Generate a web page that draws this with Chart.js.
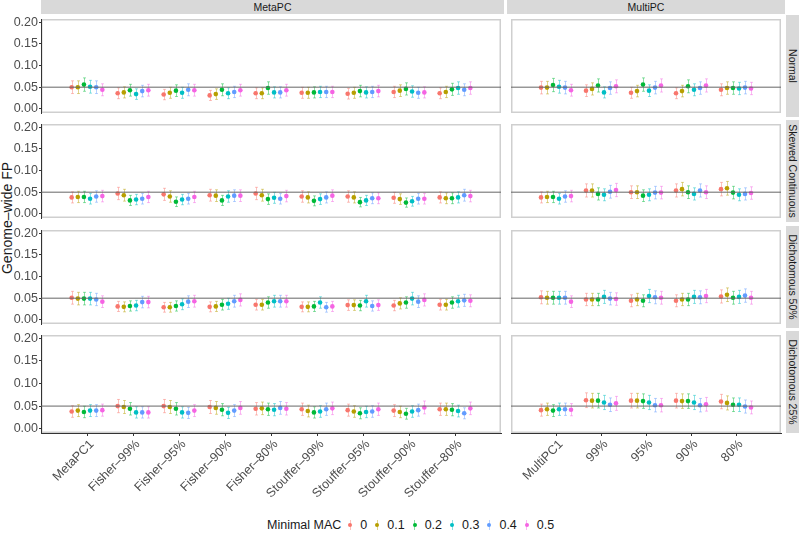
<!DOCTYPE html>
<html>
<head>
<meta charset="utf-8">
<script src="https://cdn.jsdelivr.net/npm/chart.js@4.4.1/dist/chart.umd.min.js"></script>
<style>
  body { margin: 0; background: #fff; font-family: "Liberation Sans", Arial, sans-serif; }
  #wrap { position: relative; width: 800px; height: 533px; overflow: hidden; background: #fff; }
  .cell { position: absolute; }
  .strip { position: absolute; background: #D9D9D9; color: #1A1A1A; font-size: 10.5px;
           display: flex; align-items: center; justify-content: center; }
  .strip.v span { transform: rotate(90deg); white-space: nowrap; }
  #ytitle { position: absolute; width: 200px; text-align: center; font-size: 14px; color: #1A1A1A;
            transform: rotate(-90deg); }
  #legend { position: absolute; left: 267px; top: 517px; display: flex; align-items: center;
            font-size: 12.5px; color: #1A1A1A; height: 16px; }
  .key { position: relative; width: 14px; height: 14px; margin-left: 1px; }
  .key i { position: absolute; left: 6.5px; top: 2px; width: 1px; height: 10px; opacity: 0.45; }
  .key b { position: absolute; left: 5px; top: 5px; width: 4px; height: 4px; border-radius: 50%; }
  .lab { margin-left: 3px; margin-right: 2px; }
</style>
</head>
<body>
<div id="wrap">
  <div id="ytitle" style="left:-93px; top:210px;">Genome–wide FP</div>
  <div id="legend"></div>
</div>
<script>
// GLOBALS
Chart.defaults.font.family = "'Liberation Sans', Arial, sans-serif";
Chart.defaults.font.size = 12.5;

const macLevels = ["0", "0.1", "0.2", "0.3", "0.4", "0.5"];
const macColors = ["#F8766D", "#B79F00", "#00BA38", "#00BFC4", "#619CFF", "#F564E3"];
const metaMethods = ["MetaPC1", "Fisher–99%", "Fisher–95%", "Fisher–90%", "Fisher–80%",
  "Stouffer–99%", "Stouffer–95%", "Stouffer–90%", "Stouffer–80%"];
const multiMethods = ["MultiPC1", "99%", "95%", "90%", "80%"];
const phenotypes = ["Normal", "Skewed Continuous", "Dichotomous 50%", "Dichotomous 25%"];
const yTicks = [0, 0.05, 0.1, 0.15, 0.2];
const nominalFP = 0.05;
const nReps = 850; // replicates behind each estimate (for the 95% binomial CI)

// one row per method, one column per minimal MAC level
const metaNormal = [
  [0.050, 0.050, 0.056, 0.051, 0.050, 0.044],
  [0.036, 0.038, 0.043, 0.034, 0.041, 0.043],
  [0.033, 0.037, 0.042, 0.037, 0.044, 0.043],
  [0.031, 0.034, 0.044, 0.036, 0.039, 0.043],
  [0.036, 0.036, 0.048, 0.038, 0.038, 0.043],
  [0.037, 0.037, 0.038, 0.039, 0.039, 0.039],
  [0.035, 0.037, 0.041, 0.038, 0.039, 0.041],
  [0.039, 0.042, 0.046, 0.040, 0.037, 0.038],
  [0.036, 0.039, 0.045, 0.048, 0.044, 0.048],
];
const multiNormal = [
  [0.049, 0.049, 0.055, 0.051, 0.049, 0.043],
  [0.042, 0.046, 0.054, 0.038, 0.048, 0.052],
  [0.037, 0.041, 0.056, 0.042, 0.049, 0.054],
  [0.036, 0.041, 0.052, 0.044, 0.048, 0.054],
  [0.044, 0.048, 0.048, 0.047, 0.049, 0.047],
];
const metaSkewed = [
  [0.038, 0.039, 0.039, 0.035, 0.040, 0.041],
  [0.047, 0.043, 0.031, 0.033, 0.035, 0.039],
  [0.045, 0.040, 0.028, 0.033, 0.035, 0.039],
  [0.043, 0.042, 0.031, 0.040, 0.042, 0.042],
  [0.047, 0.043, 0.034, 0.037, 0.035, 0.041],
  [0.040, 0.038, 0.030, 0.034, 0.038, 0.042],
  [0.040, 0.038, 0.027, 0.031, 0.036, 0.036],
  [0.037, 0.034, 0.026, 0.029, 0.035, 0.035],
  [0.038, 0.036, 0.036, 0.038, 0.043, 0.041],
];
const multiSkewed = [
  [0.038, 0.039, 0.039, 0.035, 0.040, 0.041],
  [0.054, 0.054, 0.046, 0.044, 0.051, 0.055],
  [0.050, 0.050, 0.042, 0.044, 0.049, 0.049],
  [0.054, 0.057, 0.050, 0.046, 0.054, 0.050],
  [0.057, 0.059, 0.049, 0.044, 0.046, 0.048],
];
const metaDich50 = [
  [0.051, 0.049, 0.049, 0.049, 0.047, 0.042],
  [0.031, 0.030, 0.032, 0.033, 0.041, 0.041],
  [0.029, 0.029, 0.032, 0.036, 0.042, 0.043],
  [0.030, 0.031, 0.035, 0.037, 0.043, 0.046],
  [0.035, 0.035, 0.040, 0.043, 0.043, 0.043],
  [0.030, 0.030, 0.031, 0.040, 0.029, 0.031],
  [0.034, 0.034, 0.033, 0.043, 0.032, 0.034],
  [0.033, 0.038, 0.040, 0.049, 0.042, 0.046],
  [0.035, 0.035, 0.040, 0.043, 0.045, 0.044],
];
const multiDich50 = [
  [0.052, 0.051, 0.051, 0.051, 0.051, 0.042],
  [0.047, 0.047, 0.047, 0.053, 0.049, 0.048],
  [0.044, 0.047, 0.044, 0.055, 0.052, 0.051],
  [0.044, 0.047, 0.047, 0.053, 0.052, 0.055],
  [0.054, 0.058, 0.051, 0.053, 0.056, 0.051],
];
const metaDich25 = [
  [0.038, 0.040, 0.037, 0.040, 0.040, 0.041],
  [0.050, 0.048, 0.044, 0.036, 0.036, 0.036],
  [0.050, 0.048, 0.044, 0.036, 0.035, 0.040],
  [0.048, 0.046, 0.042, 0.035, 0.040, 0.046],
  [0.044, 0.045, 0.043, 0.042, 0.046, 0.044],
  [0.043, 0.039, 0.036, 0.038, 0.043, 0.045],
  [0.041, 0.038, 0.034, 0.037, 0.038, 0.043],
  [0.040, 0.037, 0.033, 0.038, 0.041, 0.047],
  [0.043, 0.043, 0.042, 0.039, 0.034, 0.045],
];
const multiDich25 = [
  [0.041, 0.043, 0.040, 0.043, 0.043, 0.042],
  [0.063, 0.062, 0.062, 0.058, 0.053, 0.056],
  [0.062, 0.062, 0.061, 0.058, 0.052, 0.052],
  [0.062, 0.061, 0.061, 0.058, 0.052, 0.054],
  [0.060, 0.057, 0.053, 0.053, 0.049, 0.047],
];

const metaRows = [metaNormal, metaSkewed, metaDich50, metaDich25];
const multiRows = [multiNormal, multiSkewed, multiDich50, multiDich25];

// layout
const rowTops = [15, 120, 226, 331];
const panelH = 102;
const xLabelH = 75;
const dodge = 0.8;

function withAlpha(hex, a) {
  const n = parseInt(hex.slice(1), 16);
  return `rgba(${(n >> 16) & 255},${(n >> 8) & 255},${n & 255},${a})`;
}

// error bars under the points + light panel border
const panelPlugin = {
  id: "panel",
  beforeDraw(chart) {
    const { ctx, chartArea: a } = chart;
    ctx.save();
    ctx.strokeStyle = "#CFCFCF";
    ctx.lineWidth = 1.5;
    ctx.strokeRect(a.left + 0.75, a.top + 0.75, a.width - 1.5, a.height - 1.5);
    ctx.restore();
  },
  beforeDatasetsDraw(chart) {
    const { ctx, scales: { x, y } } = chart;
    ctx.save();
    ctx.lineWidth = 1;
    chart.data.datasets.forEach((ds) => {
      if (!ds.errorBars) return;
      ctx.strokeStyle = withAlpha(ds.backgroundColor, 0.45);
      ds.data.forEach((p) => {
        const px = Math.round(x.getPixelForValue(p.x)) + 0.5;
        const y1 = y.getPixelForValue(p.lo);
        const y2 = y.getPixelForValue(p.hi);
        ctx.beginPath();
        ctx.moveTo(px, y1); ctx.lineTo(px, y2);
        ctx.moveTo(px - 1.5, y1); ctx.lineTo(px + 1.5, y1);
        ctx.moveTo(px - 1.5, y2); ctx.lineTo(px + 1.5, y2);
        ctx.stroke();
      });
    });
    ctx.restore();
  },
};

function binomCI(p) {
  const h = 1.96 * Math.sqrt((p * (1 - p)) / nReps);
  return [p - h, p + h];
}

function makePanel(methods, values, isLeft, isBottom, left, width, top) {
  const div = document.createElement("div");
  div.className = "cell";
  div.style.left = left + "px";
  div.style.top = top + "px";
  const canvas = document.createElement("canvas");
  const height = panelH + (isBottom ? xLabelH : 0);
  canvas.width = width;
  canvas.height = height;
  canvas.style.width = width + "px";
  canvas.style.height = height + "px";
  div.appendChild(canvas);
  document.getElementById("wrap").appendChild(div);

  const datasets = macLevels.map((lvl, k) => ({
    label: lvl,
    errorBars: true,
    data: values.map((row, i) => {
      const [lo, hi] = binomCI(row[k]);
      return { x: i + ((k - 2.5) * dodge) / macLevels.length, y: row[k], lo: lo, hi: hi };
    }),
    backgroundColor: macColors[k],
    pointRadius: 2.3,
    pointBorderWidth: 0,
    order: 1,
  }));
  datasets.push({
    label: "nominal",
    data: [{ x: -1, y: nominalFP }, { x: methods.length, y: nominalFP }],
    showLine: true,
    borderColor: "#666666",
    borderWidth: 1,
    pointRadius: 0,
    order: 0,
  });

  new Chart(canvas.getContext("2d"), {
    type: "scatter",
    data: { datasets: datasets },
    options: {
      responsive: false,
      animation: false,
      layout: { padding: { left: 0, right: isLeft ? 1 : 0, top: 0, bottom: 0 } },
      plugins: { legend: { display: false }, tooltip: { enabled: false } },
      scales: {
        x: {
          type: "linear",
          min: -1,
          max: methods.length,
          display: isBottom,
          afterBuildTicks: (s) => { s.ticks = methods.map((m, i) => ({ value: i })); },
          afterFit: (s) => {
            if (!isBottom) return;
            s.height = xLabelH; s.paddingLeft = 0; s.paddingRight = 0;
          },
          ticks: {
            autoSkip: false, minRotation: 45, maxRotation: 45, padding: 1, labelOffset: 5,
            color: "#4D4D4D", font: { size: 12.5 },
            callback: (v) => methods[v],
          },
          grid: { display: true, drawOnChartArea: false, drawTicks: true, tickLength: 3, tickColor: "#333333" },
          border: { display: true, color: "#333333", width: 1 },
        },
        y: {
          type: "linear",
          min: -0.0096,
          max: 0.2074,
          display: isLeft,
          afterBuildTicks: (s) => { s.ticks = yTicks.map((v) => ({ value: v })); },
          afterFit: (s) => {
            if (!isLeft) return;
            s.width = 41; s.paddingTop = 0; s.paddingBottom = 0;
          },
          ticks: { padding: 1, color: "#4D4D4D", font: { size: 12.5 }, callback: (v) => v.toFixed(2) },
          grid: { display: true, drawOnChartArea: false, drawTicks: true, tickLength: 2, tickColor: "#333333" },
          border: { display: true, color: "#333333", width: 1 },
        },
      },
    },
    plugins: [panelPlugin],
  });
}

function addStrip(text, left, top, width, height, vertical) {
  const s = document.createElement("div");
  s.className = "strip" + (vertical ? " v" : "");
  s.style.left = left + "px";
  s.style.top = top + "px";
  s.style.width = width + "px";
  s.style.height = height + "px";
  const span = document.createElement("span");
  span.textContent = text;
  s.appendChild(span);
  document.getElementById("wrap").appendChild(s);
}

addStrip("MetaPC", 41, 0, 463, 14, false);
addStrip("MultiPC", 507, 0, 278, 14, false);

phenotypes.forEach((ph, r) => {
  const bottom = r === phenotypes.length - 1;
  makePanel(metaMethods, metaRows[r], true, bottom, 0, 505, rowTops[r]);
  makePanel(multiMethods, multiRows[r], false, bottom, 507, 278, rowTops[r]);
  addStrip(ph, 786, rowTops[r], 13, panelH, true);
});

// legend
const legend = document.getElementById("legend");
const title = document.createElement("span");
title.textContent = "Minimal MAC";
title.style.marginRight = "1px";
legend.appendChild(title);
macLevels.forEach((lvl, k) => {
  const key = document.createElement("span");
  key.className = "key";
  key.innerHTML = `<i style="background:${macColors[k]}"></i><b style="background:${macColors[k]}"></b>`;
  legend.appendChild(key);
  const lab = document.createElement("span");
  lab.className = "lab";
  lab.textContent = lvl;
  legend.appendChild(lab);
});
</script>
</body>
</html>
